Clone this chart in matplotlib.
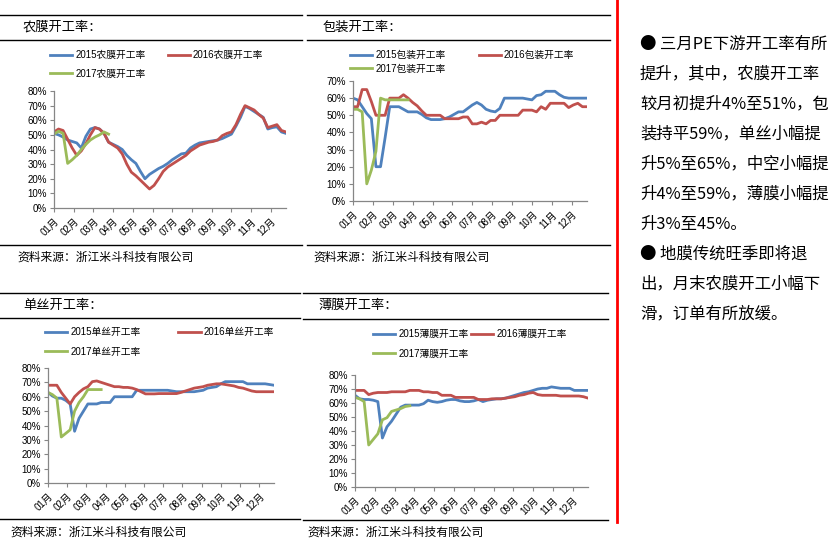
import matplotlib
matplotlib.use('Agg')
import matplotlib.pyplot as plt
from matplotlib.lines import Line2D

# ---------------- data ----------------
months = ['01月', '02月', '03月', '04月', '05月', '06月',
          '07月', '08月', '09月', '10月', '11月', '12月']
y_fmt = '{}%'

agri_2015 = [51, 50, 48.5, 46.5, 45.5, 44.5, 41, 49, 54, 55, 54, 51, 45, 43.5, 42, 40,
             36, 33, 30.5, 25, 20, 23, 25, 27, 28.5, 30.5, 33, 35, 37, 37.5, 41, 43,
             44.5, 45, 45.5, 46, 46.5, 47.5, 49, 50.5, 56, 62, 69.5, 68, 66, 64,
             62, 54, 55, 55.5, 52, 51]
agri_2016 = [52, 54, 53, 47, 41, 36, 39, 44, 50, 55, 54, 51, 45, 43, 41, 37,
             30, 24.5, 22, 19, 16, 13, 15.5, 20, 25, 28, 30, 32, 34, 36, 39, 41,
             43, 44, 45, 45.5, 46.5, 49.5, 51, 52, 57, 64, 70, 68.5, 67, 64,
             61.5, 55, 56, 57, 53, 52]
agri_2017 = [50.5, 52.5, 51, 30.5, 33, 36, 40, 43.5, 46.5, 48.5, 50, 52, 50.5]

pack_2015 = [60, 59, 55, 51, 48, 20, 20, 37, 55, 55, 55, 53.5, 52, 52, 52, 50.5,
             48.5, 47.5, 47.5, 47.5, 48, 49, 50.5, 52, 52, 54, 56, 57.5, 56, 53.5,
             52.5, 52, 54, 60, 60, 60, 60, 60, 59.5, 59, 61.5, 62, 64, 64, 64,
             62, 60.5, 60, 60, 60, 60, 60]
pack_2016 = [55, 55, 65, 65, 58, 50, 50, 50, 60, 60, 60, 62, 60, 57.5, 55.5, 52.5,
             50, 50, 50, 50, 48, 48, 48, 48, 49, 49, 45, 45, 46, 45, 47, 47,
             50, 50, 50, 50, 50, 53, 53, 53, 52, 55, 53.5, 57, 57, 57, 57,
             54.5, 56, 57, 55, 55]
pack_2017 = [53.5, 53.5, 52, 10, 18, 29, 60, 59, 59, 59, 59, 59, 59]

mono_2015 = [63, 60.5, 59, 59, 57.5, 55, 36, 45, 50, 55, 55, 55, 56, 56, 56, 60,
             60, 60, 60, 60, 64.5, 64.5, 64.5, 64.5, 64.5, 64.5, 64.5, 64.5, 64, 63.5,
             63.5, 63.5, 63.5, 63.5, 64, 64.5, 66, 66.5, 67, 69, 70.5, 70.5, 70.5,
             70.5, 70.5, 69, 69, 69, 69, 69, 68.5, 68]
mono_2016 = [68, 68, 68, 63, 59, 55, 60, 63, 65.5, 67, 70.5, 71, 70, 69, 68, 67,
             67, 66.5, 66.5, 66, 65, 63.5, 62, 62, 62, 62.2, 62.2, 62.2, 62.2, 62.2,
             63, 64, 65, 66, 66.5, 67, 68, 68.5, 69, 69, 68.5, 68, 67.5, 66.5, 66,
             65, 64, 63.5, 63.5, 63.5, 63.5, 63.5]
mono_2017 = [63, 61.5, 59, 32, 34.5, 37, 50, 56, 60, 65, 65, 65, 65]

film_2015 = [65.5, 63, 62.5, 62.5, 62, 61, 35, 43, 47, 52, 57, 58.5, 58.5, 58.5, 58.5,
             59.5, 62, 61, 60.5, 61, 62, 62.5, 62.5, 61.5, 61, 61, 61.5, 62.5, 61,
             62, 62.5, 63, 63, 63.5, 64.5, 65.5, 66.5, 67.5, 68, 69, 70, 70.5, 70.5,
             71.5, 71, 70.5, 70.5, 70.5, 69, 69, 69, 69]
film_2016 = [69, 69, 69, 66, 67, 67.5, 67.5, 67.5, 68, 68, 68, 68, 69, 69, 69, 68,
             68, 67.5, 67.5, 65.5, 65.5, 65.5, 64, 64, 64, 64, 64, 62.5, 62.5, 62.5,
             63, 63, 63, 63.5, 64, 64.5, 65.5, 66, 67, 67.5, 66, 65.5, 65.5, 65.5,
             65.5, 65, 65, 65, 65, 65, 64.5, 63.5]
film_2017 = [64, 63, 61, 30, 34, 38, 48, 49.5, 54, 55, 56, 57.5, 58]

titles = ['农膜开工率：', '包装开工率：', '单丝开工率：', '薄膜开工率：']
products = ['农膜', '包装', '单丝', '薄膜']
years = ['2015', '2016', '2017']
source_text = '资料来源：浙江米斗科技有限公司'
note_lines = ['● 三月PE下游开工率有所',
              '提升，其中，农膜开工率',
              '较月初提升4%至51%，包',
              '装持平59%，单丝小幅提',
              '升5%至65%，中空小幅提',
              '升4%至59%，薄膜小幅提',
              '升3%至45%。',
              '● 地膜传统旺季即将退',
              '出，月末农膜开工小幅下',
              '滑，订单有所放缓。']

# ---------------- layout ----------------
W, H = 830, 544
fig = plt.figure(figsize=(W / 100, H / 100), dpi=100)
fig.patch.set_facecolor('white')

LAT = ['Liberation Sans', 'Noto Sans CJK SC']
CJK = ['Noto Sans CJK SC', 'DejaVu Sans']
colors = ['#4F81BD', '#C0504D', '#9BBB59']
axis_col = '#868686'


def fx(x):
    return x / W


def fy(y):
    return 1 - y / H


def hline(y, x0, x1, color='black', lw=1.0):
    fig.add_artist(Line2D([fx(x0), fx(x1)], [fy(y), fy(y)], color=color, lw=lw,
                          transform=fig.transFigure))


panels = [
    dict(data=[agri_2015, agri_2016, agri_2017], ymax=80,
         box=(54, 286, 91, 208), rules=(15, 40, 245), rx=(0, 302),
         title=(23, 27), src=(17, 257), leg=(50, 55, 18), colsp=2.26),
    dict(data=[pack_2015, pack_2016, pack_2017], ymax=70,
         box=(353, 587, 81, 201), rules=(15, 40, 245), rx=(307, 610),
         title=(323, 27), src=(313, 257), leg=(350, 55, 13), colsp=3.4),
    dict(data=[mono_2015, mono_2016, mono_2017], ymax=80,
         box=(48, 274, 368, 483), rules=(293, 318, 519), rx=(0, 300),
         title=(23, 305), src=(10, 532), leg=(45, 332, 19), colsp=3.9),
    dict(data=[film_2015, film_2016, film_2017], ymax=80,
         box=(355, 588, 375, 487), rules=(293, 319, 520), rx=(303, 608),
         title=(318, 305), src=(307, 532), leg=(373, 334, 19), colsp=0.25),
]

month_pos = [i * 52 / 12 for i in range(12)]

for k, p in enumerate(panels):
    l, r, t, b = p['box']
    ax = fig.add_axes([fx(l), fy(b), (r - l) / W, (b - t) / H])
    handles = []
    for vals, yr, col in zip(p['data'], years, colors):
        h, = ax.plot(range(len(vals)), vals, color=col, lw=2.0,
                     label=yr + products[k] + '开工率', solid_joinstyle='round')
        handles.append(h)
    ax.set_xlim(0, 51)
    ax.set_ylim(0, p['ymax'])
    yt = list(range(0, p['ymax'] + 1, 10))
    ax.set_yticks(yt)
    ax.set_yticklabels([y_fmt.format(v) for v in yt], family=LAT, fontsize=7)
    ax.set_xticks(month_pos)
    ax.set_xticklabels(months, rotation=45, ha='right', va='top',
                       rotation_mode='anchor', family=LAT, fontsize=7)
    for s in ('top', 'right'):
        ax.spines[s].set_visible(False)
    for s in ('left', 'bottom'):
        ax.spines[s].set_color(axis_col)
        ax.spines[s].set_linewidth(0.9)
    ax.tick_params(axis='both', length=3, color=axis_col, width=0.8, pad=2)
    ax.tick_params(axis='x', pad=3)
    ax.patch.set_alpha(0)

    lx, ly, pitch = p['leg']
    fs_px = 7 * 100 / 72
    txt_h = 9.5
    lspacing = max(0.0, (pitch - txt_h) / fs_px)
    ax.legend([handles[0], handles[2], handles[1]],
              [handles[0].get_label(), handles[2].get_label(), handles[1].get_label()],
              ncol=2, loc='upper left', bbox_to_anchor=(fx(lx), fy(ly - txt_h / 2)),
              bbox_transform=fig.transFigure, frameon=False,
              prop={'family': LAT, 'size': 7}, handlelength=2.3, handletextpad=0.3,
              columnspacing=p['colsp'], borderpad=0, borderaxespad=0,
              labelspacing=lspacing)

    for ry in p['rules']:
        hline(ry, p['rx'][0], p['rx'][1])
    tx, ty = p['title']
    fig.text(fx(tx), fy(ty), titles[k], fontsize=9.5, family=CJK,
             ha='left', va='center', color='black')
    sx, sy = p['src']
    fig.text(fx(sx), fy(sy), source_text, fontsize=8.5, family=CJK,
             ha='left', va='center', color='black')

# red separator
fig.add_artist(Line2D([fx(617), fx(617)], [fy(0), fy(522)], color='#FF0000', lw=2.0,
                      transform=fig.transFigure))

for i, line in enumerate(note_lines):
    fig.text(fx(640), fy(44 + 30 * i), line, fontsize=11.8, family=CJK,
             ha='left', va='center', color='black')

fig.savefig('out.png', dpi=100, facecolor='white')
